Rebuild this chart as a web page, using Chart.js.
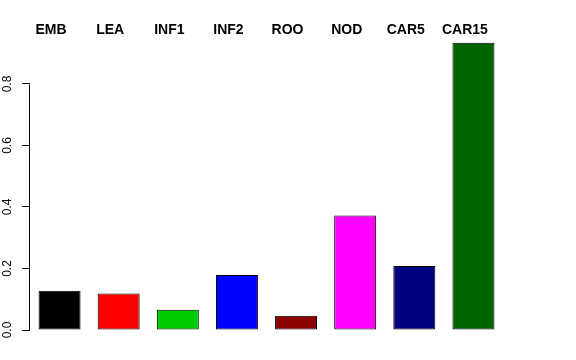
<!DOCTYPE html>
<html>
<head>
<meta charset="utf-8">
<script src="https://cdn.jsdelivr.net/npm/chart.js@4/dist/chart.umd.min.js"></script>
<style>
  body { margin: 0; background: #fff; }
  #wrap { width: 576px; height: 360px; }
</style>
</head>
<body>
<div id="wrap"><canvas id="barChart"></canvas></div>
<script>
    // categorias y valores
    const categories = ['EMB', 'LEA', 'INF1', 'INF2', 'ROO', 'NOD', 'CAR5', 'CAR15'];
    const values = [0.128, 0.119, 0.066, 0.179, 0.046, 0.372, 0.208, 0.934];
    const barColors = ['#000000', '#FF0000', '#00CD00', '#0000FF', '#8B0000', '#FF00FF', '#000080', '#006400'];
    const yTicks = [0, 0.2, 0.4, 0.6, 0.8];

    const font = '"Liberation Sans", Arial, sans-serif';

    // linea del eje y solo entre el primer y ultimo tick (estilo R)
    const axisLine = {
        id: 'axisLine',
        afterDraw(chart) {
            const y = chart.scales.y;
            const ctx = chart.ctx;
            const x = Math.round(chart.chartArea.left) - 0.5;
            ctx.save();
            ctx.strokeStyle = '#000';
            ctx.lineWidth = 1;
            ctx.beginPath();
            ctx.moveTo(x, Math.round(y.getPixelForValue(yTicks[0])) + 0.5);
            ctx.lineTo(x, Math.round(y.getPixelForValue(yTicks[yTicks.length - 1])) + 0.5);
            ctx.stroke();
            ctx.restore();
        }
    };

    const data = {
        labels: categories,
        datasets: [{
            data: values,
            backgroundColor: barColors,
            borderColor: '#000',
            borderWidth: 1,
            borderSkipped: false,
            categoryPercentage: 1,
            barPercentage: 0.71
        }]
    };

    const options = {
        responsive: true,
        maintainAspectRatio: false,
        animation: false,
        layout: { padding: { top: 0, right: 73, bottom: 30, left: 0 } },
        plugins: { legend: { display: false }, tooltip: { enabled: false } },
        scales: {
            x: {
                position: 'top',
                grid: { display: false, drawTicks: false },
                border: { display: false },
                afterFit: (scale) => { scale.height = 40; },
                ticks: {
                    color: '#000',
                    padding: 1,
                    labelOffset: -8.5,
                    font: { family: font, size: 14, weight: 'bold' }
                }
            },
            y: {
                min: 0,
                max: 0.943,
                afterFit: (scale) => { scale.width = 30; },
                afterBuildTicks: (scale) => { scale.ticks = yTicks.map(v => ({ value: v })); },
                grid: { drawOnChartArea: false, tickLength: 8, color: '#000' },
                border: { display: false },
                ticks: {
                    color: '#000',
                    minRotation: 90,
                    maxRotation: 90,
                    crossAlign: 'center',
                    padding: 6,
                    font: { family: font, size: 12 },
                    callback: (v) => Number(v).toFixed(1)
                }
            }
        }
    };

    const ctx = document.getElementById('barChart').getContext('2d');
    const barChartInstance = new Chart(ctx, {
        type: 'bar',
        data: data,
        options: options,
        plugins: [axisLine]
    });
</script>
</body>
</html>
